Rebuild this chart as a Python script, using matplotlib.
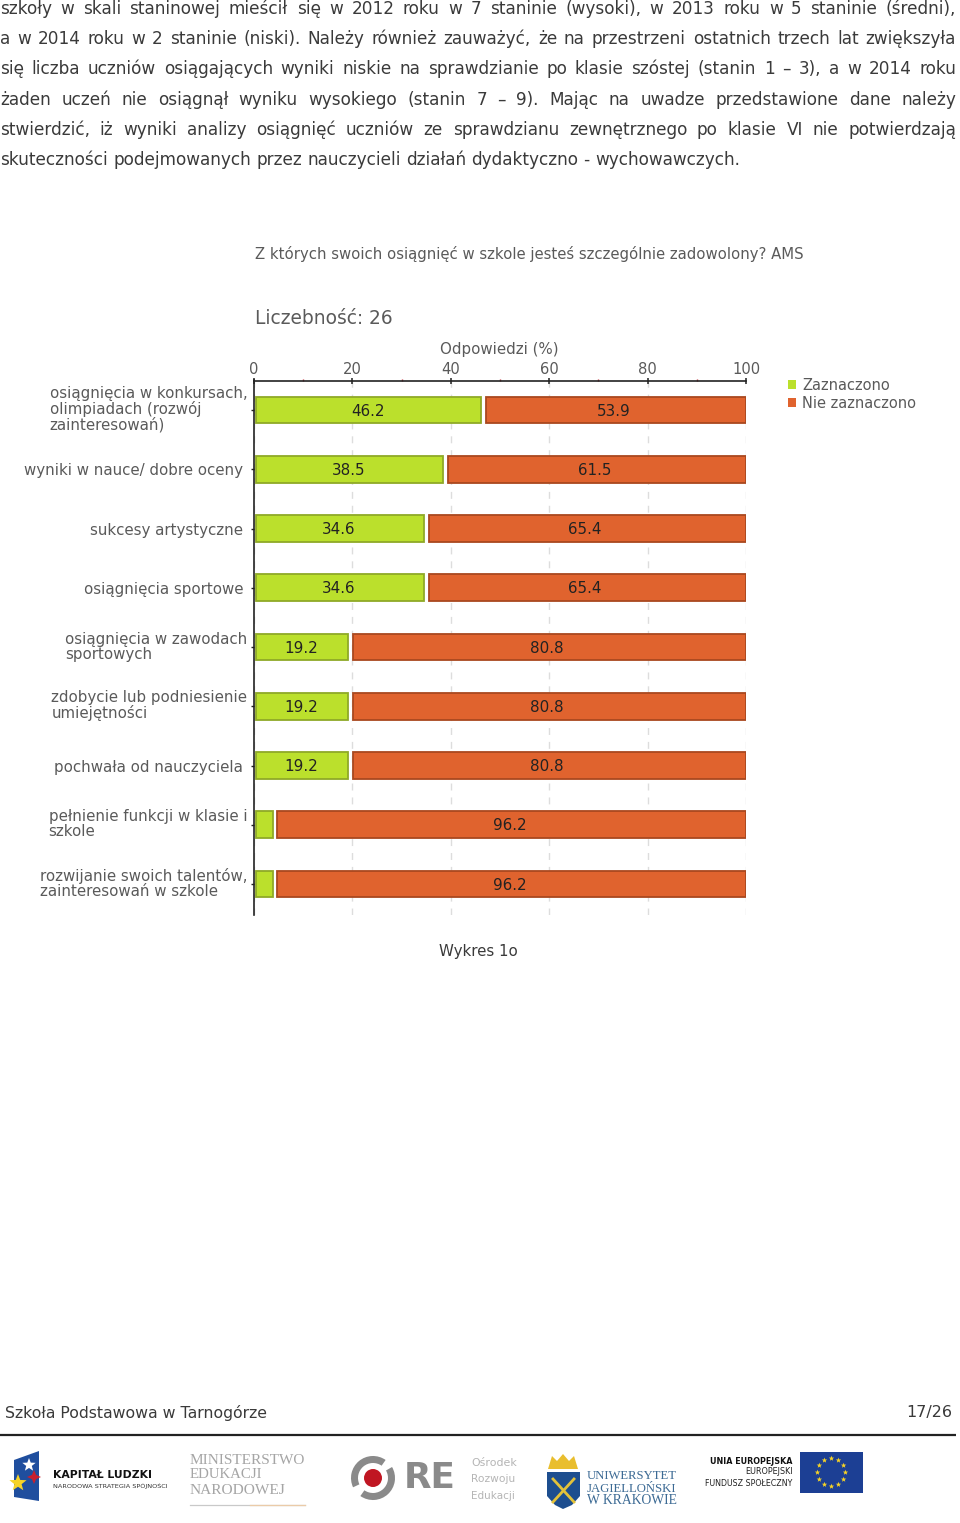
import matplotlib
matplotlib.use("Agg")
import matplotlib.pyplot as plt
from matplotlib.patches import Polygon, Rectangle, Circle, Wedge
from matplotlib.transforms import ScaledTranslation
import numpy as np

# ---------- data ----------
categories = [
    "osiągnięcia w konkursach,\nolimpiadach (rozwój\nzainteresowań)",
    "wyniki w nauce/ dobre oceny",
    "sukcesy artystyczne",
    "osiągnięcia sportowe",
    "osiągnięcia w zawodach\nsportowych",
    "zdobycie lub podniesienie\numiejętności",
    "pochwała od nauczyciela",
    "pełnienie funkcji w klasie i\nszkole",
    "rozwijanie swoich talentów,\nzainteresowań w szkole",
]
zaznaczono = [46.2, 38.5, 34.6, 34.6, 19.2, 19.2, 19.2, 3.8, 3.8]
nie_zaznaczono = [53.9, 61.5, 65.4, 65.4, 80.8, 80.8, 80.8, 96.2, 96.2]
series_names = ["Zaznaczono", "Nie zaznaczono"]
major_ticks = [0, 20, 40, 60, 80, 100]
minor_ticks = [10, 30, 50, 70, 90]

chart_title = "Z których swoich osiągnięć w szkole jesteś szczególnie zadowolony? AMS"
count_label = "Liczebność: 26"
axis_label = "Odpowiedzi (%)"
caption = "Wykres 1o"
footer_left = "Szkoła Podstawowa w Tarnogórze"
footer_right = "17/26"
body_lines = [
    "szkoły w skali staninowej mieścił się w 2012 roku w 7 staninie (wysoki), w 2013 roku w 5 staninie (średni),",
    "a w 2014 roku w 2 staninie (niski). Należy również zauważyć, że na przestrzeni ostatnich trzech lat zwiększyła",
    "się liczba uczniów osiągających wyniki niskie na sprawdzianie po klasie szóstej (stanin 1 – 3), a w 2014 roku",
    "żaden uczeń nie osiągnął wyniku wysokiego (stanin 7 – 9). Mając na uwadze przedstawione dane należy",
    "stwierdzić, iż wyniki analizy osiągnięć uczniów ze sprawdzianu zewnętrznego po klasie VI nie potwierdzają",
    "skuteczności podejmowanych przez nauczycieli działań dydaktyczno - wychowawczych.",
]

# ---------- page ----------
W, H = 960, 1523
GREEN, GREEN_E = "#BBE02C", "#8FA927"
ORANGE, ORANGE_E = "#E0632E", "#A9481F"
CHART_TXT = "#5A5A5A"
PAGE_TXT = "#3A3A3A"
FONT = "DejaVu Sans"

plt.rcParams["font.family"] = FONT
fig = plt.figure(figsize=(W / 100, H / 100), dpi=100, facecolor="white")
page = fig.add_axes([0, 0, 1, 1], zorder=0)
page.set_xlim(0, W)
page.set_ylim(H, 0)
page.axis("off")
renderer = fig.canvas.get_renderer()


def width(t):
    return t.get_window_extent(renderer).width


def fit(s, x0, x1, y, **kw):
    """Text spanning x0..x1 in page pixels."""
    kw.setdefault("family", FONT)
    t = page.text(x0, y, s, ha="left", va="center", fontsize=10, **kw)
    for _ in range(3):
        t.set_fontsize(t.get_fontsize() * (x1 - x0) / width(t))
    return t


# body text, justified word by word; font size from the one unjustified line
probe = page.text(0, 0, body_lines[-1], fontsize=10, family=FONT)
for _ in range(3):
    probe.set_fontsize(probe.get_fontsize() * 740 / width(probe))
BODY_FS = probe.get_fontsize()
probe.remove()
body_y = [9, 39, 69, 100, 130, 160]
RIGHT = 956
for i, (line, y) in enumerate(zip(body_lines, body_y)):
    words = line.split(" ")
    ts = [page.text(0, y, w, ha="left", va="center", fontsize=BODY_FS, color=PAGE_TXT, family=FONT) for w in words]
    ws = [width(t) for t in ts]
    if i < len(body_lines) - 1:
        gap = (RIGHT - sum(ws)) / (len(words) - 1)
    else:
        gap = (740 - sum(ws)) / (len(words) - 1)
    x = 0
    for t, w in zip(ts, ws):
        t.set_x(x)
        x += w + gap

# ---------- chart ----------
L, R, T, B = 254, 746, 380.5, 915
ax = fig.add_axes([L / W, 1 - B / H, (R - L) / W, (B - T) / H], zorder=2)
ax.patch.set_alpha(0)
y = np.arange(len(categories))
GAP = 0.95
INSET = 0.45
bh = 0.455
g = np.array(zaznaczono)
o = np.array(nie_zaznaczono)
ax.barh(y, g - INSET, left=INSET, height=bh, color=GREEN, edgecolor=GREEN_E, linewidth=1.3,
        label=series_names[0], zorder=3)
ax.barh(y, 100 - (g + GAP), left=g + GAP, height=bh, color=ORANGE, edgecolor=ORANGE_E, linewidth=1.3,
        label=series_names[1], zorder=3)
for yi, a, b in zip(y, g, o):
    if a > 10:
        ax.text(a / 2, yi + 0.02, f"{a:.1f}", ha="center", va="center", fontsize=10.9,
                color="#222222", zorder=4, family=FONT)
    ax.text(a + b / 2, yi + 0.02, f"{b:.1f}", ha="center", va="center", fontsize=10.9,
            color="#222222", zorder=4, family=FONT)

ax.set_xlim(0, 100)
ax.set_ylim(len(categories) - 1 + 0.523, -0.498)
ax.xaxis.tick_top()
ax.set_xticks(major_ticks)
ax.set_xticks(minor_ticks, minor=True)
ax.tick_params(axis="x", which="major", direction="inout", length=4.7, width=1.1, color="#222222",
               labelsize=10.6, labelcolor=CHART_TXT, pad=0.5)
ax.tick_params(axis="x", which="minor", direction="out", length=1.5, width=1, color="#C0303A")
ax.set_yticks(y)
ax.set_yticklabels(categories, fontsize=10.8, color=CHART_TXT, ha="right", ma="left", linespacing=1.0, family=FONT)
ax.tick_params(axis="y", direction="out", length=2.2, width=1, color="#222222", pad=5.5)
for lab, txt in zip(ax.get_yticklabels(), categories):
    lab.set_fontfamily(FONT)
    if "\n" in txt:
        lab.set_transform(lab.get_transform() + ScaledTranslation(4 / 100, 2 / 100, fig.dpi_scale_trans))
for lab in ax.get_xticklabels():
    lab.set_fontfamily(FONT)
ax.grid(axis="x", which="major", color="#DDDDDD", linestyle=(0, (5, 5)), linewidth=1, zorder=0)
ax.set_axisbelow(True)
for s in ("right", "bottom"):
    ax.spines[s].set_visible(False)
for s in ("top", "left"):
    ax.spines[s].set_color("#222222")
    ax.spines[s].set_linewidth(1.2)

leg = ax.legend(loc="upper left", bbox_to_anchor=((785 - L) / (R - L), 1 + (T - 375) / (B - T)),
                frameon=False, prop={"family": FONT, "size": 10.5}, labelcolor=CHART_TXT,
                handlelength=0.55, handleheight=0.6, handletextpad=0.42, labelspacing=0.18, borderpad=0.2,
                borderaxespad=0)
for h in leg.legend_handles:
    h.set_linewidth(0)

fit(chart_title, 255, 805, 254, color=CHART_TXT)
fit(count_label, 255, 393, 318, color=CHART_TXT)
fit(axis_label, 440, 559, 349, color=CHART_TXT)
fit(caption, 439, 518, 951, color=PAGE_TXT)

# ---------- footer ----------
fit(footer_left, 5, 267, 1413, color=PAGE_TXT)
fit(footer_right, 906, 952, 1413, color=PAGE_TXT)
page.plot([0, 956], [1435, 1435], color="#222222", lw=1.6, solid_capstyle="butt")


# ---------- logos ----------
def star(cx, cy, r, color, n=5, z=3):
    a = np.linspace(-np.pi / 2, 1.5 * np.pi, 2 * n, endpoint=False)
    rr = np.where(np.arange(2 * n) % 2 == 0, r, r * 0.42)
    page.add_patch(Polygon(np.c_[cx + rr * np.cos(a), cy + rr * np.sin(a)], closed=True, color=color, lw=0, zorder=z))


# Kapitał Ludzki
page.add_patch(Polygon([[14, 1460], [39, 1451], [39, 1501], [14, 1497]], closed=True, color="#1F4E9E", lw=0))
star(29, 1465, 7, "white")
star(18, 1483, 9, "#F5D327")
star(34, 1477, 7, "#C8202F", n=4)
fit("KAPITAŁ LUDZKI", 53, 152, 1475, color="#111111", fontweight="bold")
fit("NARODOWA STRATEGIA SPÓJNOŚCI", 53, 166, 1486, color="#333333")

# Ministerstwo
for s, x1, yy in [("MINISTERSTWO", 305, 1461), ("EDUKACJI", 262, 1475), ("NARODOWEJ", 286, 1491)]:
    fit(s, 190, x1, yy, color="#A5A5A5", family="Liberation Serif")
page.plot([190, 305], [1505, 1505], color="#C9C9C9", lw=0.9)
page.plot([250, 305], [1505, 1505], color="#EBCBA8", lw=0.9)

# ORE
page.add_patch(Wedge((373, 1478), 22, -30, 125, width=7, color="#8A8A8A", lw=0))
page.add_patch(Wedge((373, 1478), 22, 155, 305, width=7, color="#8A8A8A", lw=0))
page.add_patch(Circle((373, 1478), 9, color="#C01622", lw=0))
fit("RE", 404, 456, 1478, color="#8A8A8A", fontweight="bold")
for s, x1, yy in [("Ośrodek", 517, 1463), ("Rozwoju", 515, 1479), ("Edukacji", 515, 1496)]:
    fit(s, 471, x1, yy, color="#B5B5B5")

# Uniwersytet Jagielloński
page.add_patch(Polygon([[548, 1469], [552, 1456], [557, 1461], [563, 1454], [569, 1461], [574, 1456], [578, 1469]],
                       closed=True, color="#E9BE2E", lw=0))
page.add_patch(Polygon([[547, 1472], [580, 1472], [580, 1496], [572, 1505], [563, 1509], [555, 1505], [547, 1496]],
                       closed=True, color="#1D4E8F", lw=0))
page.plot([553, 574], [1479, 1502], color="#E3C23A", lw=2)
page.plot([574, 553], [1479, 1502], color="#E3C23A", lw=2)
for s, yy in [("UNIWERSYTET", 1476), ("JAGIELLOŃSKI", 1489), ("W KRAKOWIE", 1501)]:
    fit(s, 587, 677, yy, color="#3C6A94", family="Liberation Serif")

# EU
fit("UNIA EUROPEJSKA", 710, 793, 1462, color="#111111", fontweight="bold")
fit("EUROPEJSKI", 745, 793, 1472, color="#222222")
fit("FUNDUSZ SPOŁECZNY", 705, 793, 1483, color="#222222")
page.add_patch(Rectangle((800, 1452), 63, 41, color="#1C3F94", lw=0))
for a in np.linspace(0, 2 * np.pi, 12, endpoint=False):
    star(831.5 + 14 * np.cos(a), 1472.5 + 14 * np.sin(a), 2.8, "#F5D327")

fig.savefig("out.png", dpi=100, facecolor="white")
